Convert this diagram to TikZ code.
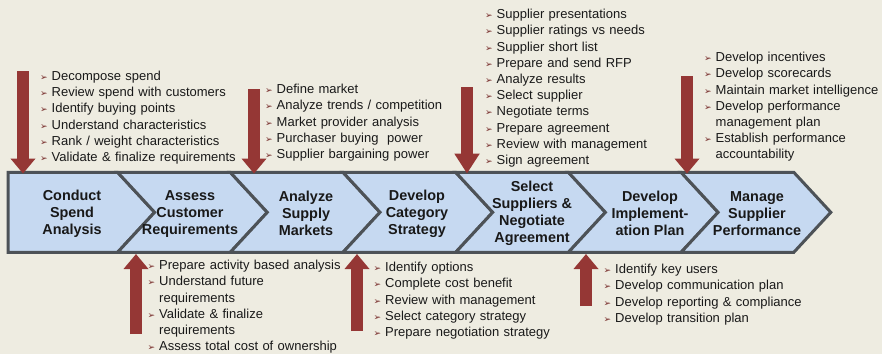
\documentclass[tikz,border=0pt]{standalone}
\usepackage{fontspec}
\setmainfont{Liberation Sans}
\newfontfamily\bulletfont{DejaVu Sans}
\usetikzlibrary{arrows.meta}

\definecolor{pagebg}{HTML}{EEECE1}
\definecolor{stepfill}{HTML}{C6D9F1}
\definecolor{stepline}{HTML}{4D5257}
\definecolor{arrowred}{HTML}{953735}

% one bullet line of a task list
\newcommand{\bul}[1]{\hangindent=11.5pt\hangafter=1\noindent%
  \makebox[11.5pt][l]{\bulletfont\color{arrowred!80!black}\fontsize{9}{9}\selectfont ➢}#1\par}

\tikzset{
  stepshape/.style={draw=stepline, line width=3pt, fill=stepfill, line join=miter},
  steplabel/.style={font=\fontsize{14.4}{17}\selectfont\bfseries, align=center,
    text=black!90, minimum height=80pt, inner sep=0pt},
  tasklist/.style={anchor=base west, text width=260pt, inner sep=0pt,
    font=\fontsize{13}{16.2}\selectfont\raggedright, text=black!90},
  feed/.style={arrowred, line width=11.5pt, -{Triangle[length=15pt,width=24pt]}},
}

\begin{document}
\begin{tikzpicture}[x=1pt, y=-1pt]
  \fill[pagebg] (0,0) rectangle (882,354);
  \useasboundingbox (0,0) rectangle (882,354);

  % chevron band
  \draw[stepshape] (8,172.3) -- (117.6,172.3) -- (154.6,212.3) -- (117.6,252.3) -- (8,252.3) -- cycle;
  \foreach \l/\r in {117.6/230.3, 230.3/343, 343/455.7, 455.7/568.4, 568.4/681.1, 681.1/793.8}
    \draw[stepshape] (\l,172.3) -- (\r,172.3) -- (\r+37,212.3) -- (\r,252.3) -- (\l,252.3) -- (\l+37,212.3) -- cycle;

  \node (spend) [steplabel] at (72, 213.8) {Conduct\\Spend\\Analysis};
  \node (customer) [steplabel] at (190, 213.8) {Assess\\Customer\\Requirements};
  \node (market) [steplabel] at (306, 213.8) {Analyze\\Supply\\Markets};
  \node (category) [steplabel] at (417, 213.8) {Develop\\Category\\Strategy};
  \node (negotiate) [steplabel] at (532, 213.8) {Select\\Suppliers \&\\Negotiate\\Agreement};
  \node (implement) [steplabel] at (650, 213.8) {Develop\\Implement-\\ation Plan};
  \node (perform) [steplabel] at (757, 213.8) {Manage\\Supplier\\Performance};

  % task lists
  \node (spendtasks) [tasklist] at (40, 80.4) {%
    \bul{Decompose spend}
    \bul{Review spend with customers}
    \bul{Identify buying points}
    \bul{Understand characteristics}
    \bul{Rank / weight characteristics}
    \bul{Validate \& finalize requirements}};
  \node (markettasks) [tasklist] at (265, 93.7) {%
    \bul{Define market}
    \bul{Analyze trends / competition}
    \bul{Market provider analysis}
    \bul{Purchaser buying\ \ power}
    \bul{Supplier bargaining power}};
  \node (negotiatetasks) [tasklist] at (485, 18.7) {%
    \bul{Supplier presentations}
    \bul{Supplier ratings vs needs}
    \bul{Supplier short list}
    \bul{Prepare and send RFP}
    \bul{Analyze results}
    \bul{Select supplier}
    \bul{Negotiate terms}
    \bul{Prepare agreement}
    \bul{Review with management}
    \bul{Sign agreement}};
  \node (performtasks) [tasklist] at (704, 61.7) {%
    \bul{Develop incentives}
    \bul{Develop scorecards}
    \bul{Maintain market intelligence}
    \bul{Develop performance\newline management plan}
    \bul{Establish performance\newline accountability}};
  \node (customertasks) [tasklist] at (147.5, 269.7) {%
    \bul{Prepare activity based analysis}
    \bul{Understand future\newline requirements}
    \bul{Validate \& finalize\newline requirements}
    \bul{Assess total cost of ownership}};
  \node (categorytasks) [tasklist] at (373.5, 271.7) {%
    \bul{Identify options}
    \bul{Complete cost benefit}
    \bul{Review with management}
    \bul{Select category strategy}
    \bul{Prepare negotiation strategy}};
  \node (implementtasks) [tasklist] at (603.5, 273.7) {%
    \bul{Identify key users}
    \bul{Develop communication plan}
    \bul{Develop reporting \& compliance}
    \bul{Develop transition plan}};

  % feed arrows
  \coordinate (spendfeed) at (23, 71);
  \coordinate (marketfeed) at (254, 89);
  \coordinate (negotiatefeed) at (467, 87);
  \coordinate (performfeed) at (687, 76);
  \coordinate (customerfeed) at (136, 334);
  \coordinate (categoryfeed) at (357, 331);
  \coordinate (implementfeed) at (586, 306);

  \draw[feed] (spendfeed) -- (spendfeed |- spend.north);
  \draw[feed] (marketfeed) -- (marketfeed |- market.north);
  \draw[feed, -{Triangle[length=20pt,width=24pt]}] (negotiatefeed) -- (negotiatefeed |- negotiate.north);
  \draw[feed] (performfeed) -- (performfeed |- perform.north);
  \draw[feed] (customerfeed) -- (customerfeed |- customer.south);
  \draw[feed] (categoryfeed) -- (categoryfeed |- category.south);
  \draw[feed] (implementfeed) -- (implementfeed |- implement.south);
\end{tikzpicture}
\end{document}
